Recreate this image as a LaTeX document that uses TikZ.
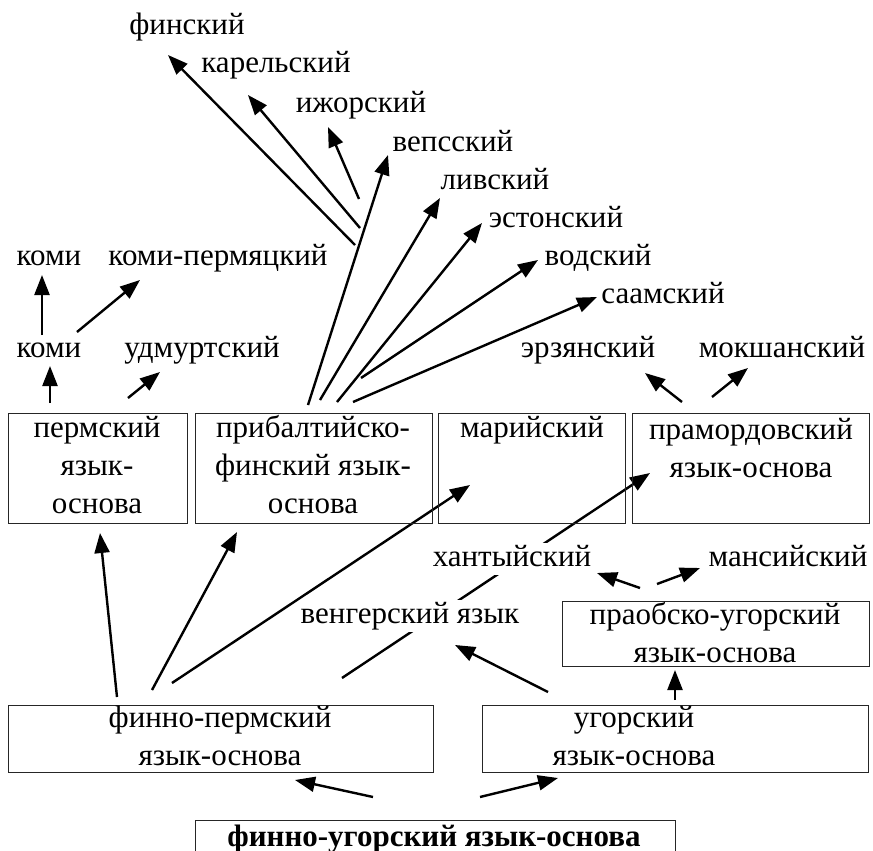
\documentclass[tikz,border=0pt]{standalone}
\usepackage{fontspec}
\setmainfont{Liberation Serif}
\usetikzlibrary{arrows.meta,backgrounds}
\begin{document}
\begin{tikzpicture}[x=1pt,y=-1pt,
  arr/.style={line width=2.4pt,-{Triangle[length=20pt,width=15pt]}},
  lbl/.style={font=\fontsize{31}{38}\selectfont, inner sep=1pt, align=center},
  one/.style={lbl, text height=21pt, text depth=7pt},
  gap/.style={fill=white, inner sep=2pt},
  box/.style={draw=black!85, line width=1.2pt, anchor=north west, inner sep=0pt}]
\useasboundingbox (0,0) rectangle (873,851);

% boxes
\node[box, minimum width=179pt, minimum height=110pt] (perm) at (8,413) {};
\node[box, minimum width=237pt, minimum height=110pt] (pribalt) at (195,413) {};
\node[box, minimum width=187pt, minimum height=110pt] (mari) at (438,413) {};
\node[box, minimum width=237pt, minimum height=110pt] (pramord) at (632,413) {};
\node[box, minimum width=307pt, minimum height=65pt] (praob) at (562,601) {};
\node[box, minimum width=425pt, minimum height=67pt] (fperm) at (8,705) {};
\node[box, minimum width=386pt, minimum height=67pt] (ugor) at (482,705) {};
\node[box, minimum width=480pt, minimum height=60pt] (fugor) at (195,820) {};

% box texts
\node[lbl] (tperm) at (97,465) {пермский\\язык-\\основа};
\node[lbl] (tpribalt) at (313,465) {прибалтийско-\\финский язык-\\основа};
\node[one] (tmari) at (532,430) {марийский};
\node[lbl] (tpramord) at (751,448) {прамордовский\\язык-основа};
\node[lbl] (tpraob) at (715,633) {праобско-угорский\\язык-основа};
\node[lbl] (tfperm) at (220,736) {финно-пермский\\язык-основа};
\node[lbl] (tugor) at (634,736) {угорский\\язык-основа};
\node[one, font=\fontsize{31}{38}\selectfont\bfseries] (tfugor) at (434,839) {финно-угорский язык-основа};

% free labels
\node[one] (fin) at (187,28) {финский};
\node[one] (kar) at (276,66) {карельский};
\node[one] (izh) at (361,105) {ижорский};
\node[one] (veps) at (453,144) {вепсский};
\node[one] (liv) at (495,182) {ливский};
\node[one] (est) at (556,220) {эстонский};
\node[one] (vod) at (598,258) {водский};
\node[one] (saam) at (663,296) {саамский};
\node[one] (komiA) at (49,258) {коми};
\node[one] (komiperm) at (218,258) {коми-пермяцкий};
\node[one] (komiB) at (49,350) {коми};
\node[one] (udm) at (202,350) {удмуртский};
\node[one] (erz) at (588,350) {эрзянский};
\node[one] (moksh) at (782,350) {мокшанский};
\node[one, gap] (khant) at (512,559) {хантыйский};
\node[one] (mans) at (788,559) {мансийский};
\node[one, gap] (veng) at (410,616) {венгерский язык};

% arrow end points
\coordinate (s1) at (355,245); \coordinate (e1) at (168,55);
\coordinate (s2) at (360,228); \coordinate (e2) at (248,95);
\coordinate (s3) at (359,199); \coordinate (e3) at (328,127);
\coordinate (s4) at (308,405); \coordinate (e4) at (388,155);
\coordinate (s5) at (320,400); \coordinate (e5) at (440,198);
\coordinate (s6) at (337,402); \coordinate (e6) at (482,223);
\coordinate (s7) at (361,378); \coordinate (e7) at (538,260);
\coordinate (s8) at (353,402); \coordinate (e8) at (597,297);
\coordinate (s9) at (42,335);  \coordinate (e9) at (42,275);
\coordinate (s10) at (77,332); \coordinate (e10) at (140,280);
\coordinate (s11) at (50,403); \coordinate (e11) at (50,366);
\coordinate (s12) at (128,398); \coordinate (e12) at (160,372);
\coordinate (s13) at (682,402); \coordinate (e13) at (645,373);
\coordinate (s14) at (712,397); \coordinate (e14) at (748,368);
\coordinate (s15) at (117,697); \coordinate (e15) at (100,533);
\coordinate (s16) at (152,690); \coordinate (e16) at (237,532);
\coordinate (s17) at (172,683); \coordinate (e17) at (470,485);
\coordinate (s18) at (342,678); \coordinate (e18) at (650,473);
\coordinate (s19) at (548,692); \coordinate (e19) at (455,645);
\coordinate (s20) at (675,700); \coordinate (e20) at (675,670);
\coordinate (s21) at (640,588); \coordinate (e21) at (597,573);
\coordinate (s22) at (657,584); \coordinate (e22) at (700,568);
\coordinate (s23) at (373,797); \coordinate (e23) at (295,780);
\coordinate (s24) at (480,797); \coordinate (e24) at (558,778);

\begin{pgfonlayer}{background}
\foreach \i in {1,...,24} { \draw[arr] (s\i) -- (e\i); }
\end{pgfonlayer}
\end{tikzpicture}
\end{document}
